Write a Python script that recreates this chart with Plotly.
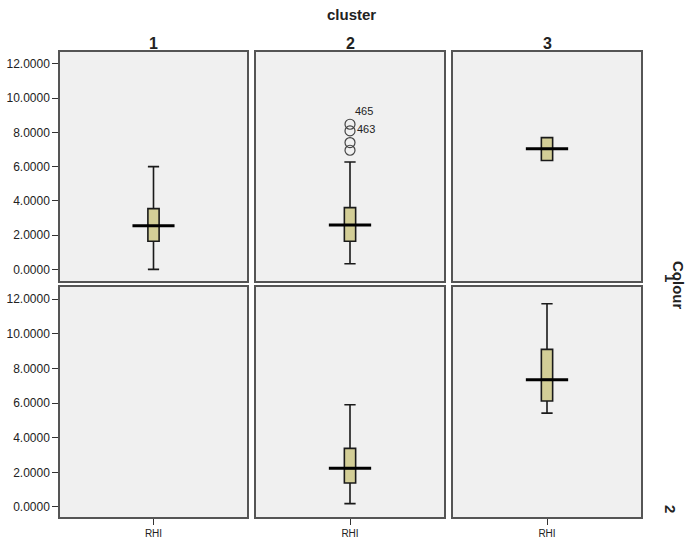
import plotly.graph_objects as go

# ---- data ----
clusters = ["1", "2", "3"]
colours = ["1", "2"]
variable = "RHI"

# box statistics per panel: [row][col]; None = empty panel
lowerfence = [[0.00, 0.33, 6.36], [None, 0.19, 5.42]]
q1 = [[1.64, 1.64, 6.36], [None, 1.38, 6.12]]
median = [[2.55, 2.59, 7.04], [None, 2.23, 7.35]]
q3 = [[3.55, 3.61, 7.70], [None, 3.38, 9.10]]
upperfence = [[6.00, 6.27, 7.70], [None, 5.90, 11.73]]

# outliers (row 1, cluster 2)
outlier_values = [6.96, 7.41, 8.09, 8.48]
outlier_labels = ["", "", "463", "465"]

ytick_vals = [0, 2, 4, 6, 8, 10, 12]

# ---- layout geometry ----
W, H = 687, 544
col_px = [(60, 247), (256, 444), (453, 641)]
row_px = [(52, 281), (287, 517)]
yranges = [[-0.68, 12.7], [-0.58, 12.7]]

FILL = "#D3CE97"
BG = "#F0F0F0"
FONT = "Liberation Sans, Arial, sans-serif"

fig = go.Figure()
layout = {}

box_w = 0.06
med_w = 0.225

for r in range(2):
    for c in range(3):
        idx = r * 3 + c + 1
        xa = "x" if idx == 1 else f"x{idx}"
        ya = "y" if idx == 1 else f"y{idx}"
        xk = "xaxis" if idx == 1 else f"xaxis{idx}"
        yk = "yaxis" if idx == 1 else f"yaxis{idx}"
        x0, x1 = col_px[c]
        top, bot = row_px[r]
        layout[xk] = dict(
            domain=[x0 / W, x1 / W], range=[-0.5, 0.5], anchor=ya,
            automargin=False,
            showline=True, mirror=True, linecolor="#555", linewidth=1.5,
            showgrid=False, zeroline=False,
            tickmode="array", tickvals=[0],
            ticktext=[variable] if r == 1 else [""],
            ticks="outside" if r == 1 else "", ticklen=6, tickcolor="#333",
            showticklabels=(r == 1),
            tickfont=dict(size=10, color="#222", family=FONT),
        )
        layout[yk] = dict(
            domain=[1 - bot / H, 1 - top / H], range=yranges[r], anchor=xa,
            automargin=False,
            showline=True, mirror=True, linecolor="#555", linewidth=1.5,
            showgrid=False, zeroline=False,
            tickmode="array", tickvals=ytick_vals,
            ticktext=[f"{v:.4f}" for v in ytick_vals],
            ticks="outside" if c == 0 else "", ticklen=6, tickcolor="#333",
            showticklabels=(c == 0),
            tickfont=dict(size=12, color="#222", family=FONT),
        )
        if median[r][c] is None:
            # empty panel: invisible trace to keep axes
            fig.add_trace(go.Scatter(x=[0], y=[0], xaxis=xa, yaxis=ya,
                                     mode="markers", marker=dict(opacity=0),
                                     showlegend=False, hoverinfo="skip"))
            continue
        fig.add_trace(go.Box(
            x=[0], q1=[q1[r][c]], median=[median[r][c]], q3=[q3[r][c]],
            lowerfence=[lowerfence[r][c]], upperfence=[upperfence[r][c]],
            xaxis=xa, yaxis=ya, width=box_w, whiskerwidth=1,
            fillcolor=FILL, line=dict(color="#1a1a1a", width=1.6),
            boxpoints=False, showlegend=False,
        ))
        fig.add_trace(go.Scatter(
            x=[-med_w / 2, med_w / 2], y=[median[r][c]] * 2,
            xaxis=xa, yaxis=ya, mode="lines",
            line=dict(color="#000", width=3), showlegend=False,
        ))

# outliers in row 1 / cluster 2
fig.add_trace(go.Scatter(
    x=[0] * len(outlier_values), y=outlier_values, xaxis="x2", yaxis="y2",
    mode="markers",
    marker=dict(symbol="circle-open", size=10, color="#444", line=dict(width=1.2)),
    showlegend=False,
))

annotations = []
shifts = {"463": (5, 2), "465": (3, 13)}
for v, lab in zip(outlier_values, outlier_labels):
    if lab:
        dx, dy = shifts[lab]
        annotations.append(dict(
            x=0, y=v, xref="x2", yref="y2", text=lab, showarrow=False,
            xanchor="left", yanchor="middle", xshift=dx, yshift=dy,
            font=dict(size=11, color="#222", family=FONT),
        ))

# facet titles
def paper_text(px, py, text, size, angle=0):
    return dict(x=px / W, y=1 - py / H, xref="paper", yref="paper",
                text=text, showarrow=False, textangle=angle,
                xanchor="center", yanchor="middle",
                font=dict(size=size, color="#222", family=FONT))

annotations.append(paper_text(351, 14, "<b>cluster</b>", 15))
for c, lab in enumerate(clusters):
    cx = (col_px[c][0] + col_px[c][1]) / 2
    annotations.append(paper_text(cx, 43, f"<b>{lab}</b>", 16))
annotations.append(paper_text(679, 285, "<b>Colour</b>", 15, 90))
row_label_y = [278, 509]
for r, lab in enumerate(colours):
    annotations.append(paper_text(671, row_label_y[r], f"<b>{lab}</b>", 15, 90))

fig.update_layout(
    width=W, height=H, margin=dict(l=0, r=0, t=0, b=0, autoexpand=False),
    paper_bgcolor="white", plot_bgcolor=BG,
    annotations=annotations, showlegend=False,
    font=dict(family=FONT),
    **layout,
)

fig.write_html("out.html", config={"displayModeBar": False},
               post_script="document.body.style.margin='0px';")
